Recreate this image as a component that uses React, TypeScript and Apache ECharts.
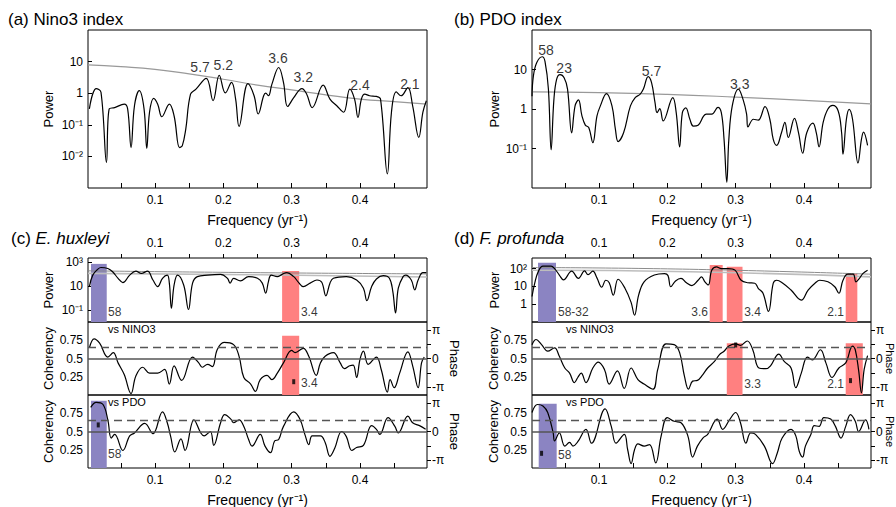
import React, { useEffect, useRef } from 'react';
import * as echarts from 'echarts';

const FONT = '"Liberation Sans", Arial, Helvetica, sans-serif';
const BLUE = '#8b84c2';
const RED = '#ff8080';

// ---------- frequency axis ----------
const FREQ_MIN = 0.002;
const FREQ_MAX = 0.498;
const freqTickValues = [0.05, 0.1, 0.15, 0.2, 0.25, 0.3, 0.35, 0.4, 0.45];
const freqLabelValues = [0.1, 0.2, 0.3, 0.4];

// ---------- phase axis ----------
const PHASE_LIM = 1.272 * Math.PI;
const phaseTickValues = [-Math.PI, -Math.PI / 2, 0, Math.PI / 2, Math.PI];
const phaseLabelValues = [-Math.PI, 0, Math.PI];
const cohTickLabels = [0.25, 0.5, 0.75];
const cohZeroPhaseLevel = 0.5;
const cohSignificance = 0.65;

// ---------- (a) Nino3 index power spectrum ----------
const nino3Freq = [0.004, 0.014, 0.021, 0.029, 0.033, 0.041, 0.055, 0.060, 0.065, 0.070,
  0.077, 0.084, 0.088, 0.092, 0.098, 0.104, 0.110, 0.121, 0.128, 0.136,
  0.140, 0.145, 0.152, 0.160, 0.175, 0.185, 0.194, 0.203, 0.212, 0.218,
  0.223, 0.236, 0.245, 0.251, 0.259, 0.262, 0.266, 0.271, 0.281, 0.288,
  0.294, 0.303, 0.315, 0.322, 0.330, 0.346, 0.356, 0.366, 0.376, 0.385,
  0.392, 0.397, 0.402, 0.407, 0.414, 0.424, 0.430, 0.440, 0.446, 0.453,
  0.460, 0.470, 0.477, 0.486, 0.492, 0.497];
const nino3Power = [0.32, 1.4, 1.07, 0.0065, 0.32, 0.35, 0.45, 0.32, 0.019, 0.4,
  1.2, 0.32, 0.018, 0.25, 0.69, 0.45, 0.18, 0.45, 0.19, 0.019,
  0.022, 0.072, 0.93, 1.35, 2.95, 0.58, 3.7, 1.02, 2.2, 0.65,
  0.089, 2.0, 0.83, 0.22, 0.83, 1.0, 0.83, 1.9, 6.5, 2.2,
  0.38, 0.72, 1.4, 0.93, 0.35, 1.8, 0.65, 0.4, 0.25, 1.35,
  0.65, 0.17, 0.65, 0.93, 0.83, 0.79, 0.65, 0.0028, 0.25, 1.1,
  0.83, 1.5, 0.4, 0.04, 0.25, 0.58];
const nino3NoiseFreq = [0.002, 0.05, 0.1, 0.15, 0.2, 0.25, 0.3, 0.35, 0.4, 0.45, 0.498];
const nino3NoisePower = [7.85, 6.9, 5.7, 4.1, 2.77, 1.8, 1.27, 0.89, 0.65, 0.54, 0.45];
const nino3PeakNames = ['5.7', '5.2', '3.6', '3.2', '2.4', '2.1'];
const nino3PeakFreq = [0.166, 0.200, 0.280, 0.317, 0.400, 0.473];
const nino3PeakPower = [6.9, 7.8, 12.6, 3.3, 1.8, 2.0];

// ---------- (b) PDO index power spectrum ----------
const pdoFreq = [0.002, 0.004, 0.009, 0.017, 0.021, 0.026, 0.030, 0.034, 0.038, 0.043,
  0.049, 0.054, 0.060, 0.065, 0.070, 0.075, 0.080, 0.085, 0.091, 0.097,
  0.102, 0.111, 0.119, 0.124, 0.128, 0.136, 0.146, 0.153, 0.160, 0.165,
  0.172, 0.177, 0.182, 0.185, 0.189, 0.194, 0.208, 0.213, 0.218, 0.222,
  0.227, 0.233, 0.238, 0.245, 0.253, 0.257, 0.265, 0.274, 0.279, 0.283,
  0.287, 0.290, 0.295, 0.304, 0.311, 0.316, 0.318, 0.326, 0.333, 0.343,
  0.350, 0.355, 0.360, 0.367, 0.372, 0.377, 0.386, 0.392, 0.398, 0.404,
  0.413, 0.418, 0.422, 0.428, 0.435, 0.442, 0.450, 0.455, 0.457, 0.462,
  0.466, 0.471, 0.479, 0.484, 0.487, 0.493];
const pdoPower = [2.1, 6.8, 15, 21, 16, 3.2, 0.093, 1.7, 5.6, 7.4,
  6.2, 3.2, 0.25, 1.2, 1.7, 0.68, 0.39, 0.34, 0.14, 0.66,
  1.2, 2.45, 1.2, 0.31, 0.15, 0.25, 1.2, 1.95, 2.35, 3.2,
  6.6, 4.6, 1.45, 0.81, 1.02, 0.5, 1.95, 0.81, 0.11, 0.81,
  1.07, 0.55, 0.37, 0.39, 0.66, 0.74, 0.74, 1.1, 0.81, 0.17,
  0.014, 0.17, 1.2, 3.2, 1.7, 0.74, 0.35, 0.55, 0.52, 1.15,
  0.55, 0.17, 0.12, 0.25, 0.46, 0.19, 0.58, 0.25, 0.076, 0.25,
  0.44, 0.25, 0.11, 0.46, 1.0, 1.23, 0.89, 0.25, 0.072, 0.55,
  0.98, 0.55, 0.043, 0.17, 0.26, 0.12];
const pdoNoiseFreq = [0.002, 0.1, 0.2, 0.3, 0.4, 0.498];
const pdoNoisePower = [2.7, 2.6, 2.35, 2.0, 1.65, 1.35];
const pdoPeakNames = ['58', '23', '5.7', '3.3'];
const pdoPeakFreq = [0.0225, 0.049, 0.177, 0.306];
const pdoPeakPower = [31, 10.7, 9.4, 4.3];

// ---------- (c) E. huxleyi ----------
const ehuxFreq = [0.004, 0.009, 0.016, 0.021, 0.031, 0.038, 0.046, 0.053, 0.063, 0.072,
  0.080, 0.089, 0.097, 0.104, 0.111, 0.118, 0.121, 0.124, 0.128, 0.133,
  0.142, 0.149, 0.155, 0.162, 0.177, 0.196, 0.206, 0.210, 0.215, 0.225,
  0.237, 0.250, 0.257, 0.262, 0.266, 0.270, 0.279, 0.286, 0.293, 0.303,
  0.310, 0.317, 0.327, 0.337, 0.344, 0.350, 0.356, 0.361, 0.380, 0.395,
  0.405, 0.410, 0.417, 0.424, 0.434, 0.443, 0.448, 0.452, 0.456, 0.463,
  0.467, 0.475, 0.480, 0.485, 0.492, 0.497];
const ehuxPower = [8.9, 79, 234, 340, 280, 150, 43, 19, 79, 170,
  110, 170, 31, 8.9, 43, 79, 17, 0.14, 12, 79,
  12, 0.11, 17, 59, 79, 91, 43, 17, 43, 26,
  59, 43, 17, 2.5, 23, 79, 59, 91, 130, 59,
  20, 8.9, 17, 31, 20, 1.5, 17, 43, 59, 31,
  6.5, 0.59, 8.9, 38, 71, 43, 3.4, 0.056, 6.5, 59,
  79, 31, 4.7, 31, 126, 126];
const ehuxLevelFreq = [0.002, 0.254, 0.498];
const ehuxLevelUpper = [180, 126, 100];
const ehuxLevelLower = [110, 85, 55];
const ehuxPowerBandFrom = [0.0064, 0.286];
const ehuxPowerBandTo = [0.0294, 0.311];
const ehuxPowerBandTop = [680, 178];
const ehuxPowerBandKind = ['pdo', 'nino'];
const ehuxPowerLabelNames = ['58', '3.4'];
const ehuxPowerLabelFreq = [0.0298, 0.312];
const ehuxPowerLabelValue = [0.07, 0.07];

const ehuxNinoFreq = [0.004, 0.011, 0.019, 0.031, 0.039, 0.046, 0.055, 0.065, 0.072, 0.082,
  0.092, 0.104, 0.114, 0.121, 0.128, 0.139, 0.155, 0.164, 0.169, 0.177,
  0.184, 0.191, 0.201, 0.215, 0.223, 0.230, 0.240, 0.247, 0.254, 0.264,
  0.271, 0.279, 0.288, 0.300, 0.305, 0.317, 0.325, 0.336, 0.342, 0.349,
  0.361, 0.371, 0.377, 0.385, 0.390, 0.395, 0.400, 0.405, 0.412, 0.424,
  0.431, 0.440, 0.444, 0.450, 0.458, 0.470, 0.477, 0.485, 0.490, 0.494];
const ehuxNinoCoh = [0.645, 0.77, 0.71, 0.52, 0.58, 0.44, 0.28, 0.02, 0.26, 0.38,
  0.30, 0.30, 0.35, 0.15, 0.40, 0.20, 0.52, 0.44, 0.38, 0.42,
  0.39, 0.62, 0.72, 0.69, 0.53, 0.24, 0.15, 0.05, 0.21, 0.27,
  0.21, 0.30, 0.44, 0.61, 0.58, 0.64, 0.53, 0.27, 0.44, 0.53,
  0.58, 0.44, 0.36, 0.40, 0.41, 0.24, 0.49, 0.60, 0.42, 0.52,
  0.35, 0.04, 0.21, 0.10, 0.30, 0.59, 0.40, 0.10, 0.44, 0.52];
const ehuxNinoBandFrom = [0.286];
const ehuxNinoBandTo = [0.311];
const ehuxNinoBandTop = [0.81];
const ehuxNinoPhaseFreq = [0.303];
const ehuxNinoPhase = [-2.54];
const ehuxNinoLabelNames = ['3.4'];
const ehuxNinoLabelFreq = [0.312];
const ehuxNinoLabelValue = [0.16];

const ehuxPdoFreq = [0.006, 0.014, 0.024, 0.031, 0.036, 0.041, 0.053, 0.063, 0.070, 0.085,
  0.097, 0.111, 0.118, 0.123, 0.129, 0.138, 0.144, 0.157, 0.167, 0.172,
  0.181, 0.186, 0.196, 0.202, 0.211, 0.215, 0.223, 0.230, 0.237, 0.242,
  0.254, 0.261, 0.269, 0.275, 0.281, 0.288, 0.303, 0.312, 0.320, 0.325,
  0.330, 0.342, 0.349, 0.356, 0.363, 0.373, 0.380, 0.388, 0.395, 0.405,
  0.417, 0.424, 0.429, 0.441, 0.451, 0.456, 0.470, 0.477, 0.487, 0.496];
const ehuxPdoCoh = [0.83, 0.90, 0.87, 0.66, 0.41, 0.46, 0.24, 0.44, 0.48, 0.61,
  0.47, 0.77, 0.62, 0.43, 0.22, 0.40, 0.24, 0.66, 0.48, 0.44,
  0.50, 0.31, 0.62, 0.73, 0.67, 0.62, 0.66, 0.57, 0.39, 0.30,
  0.46, 0.30, 0.21, 0.37, 0.39, 0.57, 0.77, 0.67, 0.44, 0.32,
  0.44, 0.44, 0.35, 0.16, 0.27, 0.50, 0.43, 0.24, 0.28, 0.31,
  0.58, 0.53, 0.46, 0.69, 0.57, 0.48, 0.71, 0.62, 0.58, 0.53];
const ehuxPdoBandFrom = [0.0064];
const ehuxPdoBandTo = [0.0294];
const ehuxPdoBandTop = [0.92];
const ehuxPdoPhaseFreq = [0.017];
const ehuxPdoPhase = [0.72];
const ehuxPdoLabelNames = ['58'];
const ehuxPdoLabelFreq = [0.0298];
const ehuxPdoLabelValue = [0.185];

// ---------- (d) F. profunda ----------
const fprofFreq = [0.002, 0.006, 0.011, 0.018, 0.030, 0.035, 0.042, 0.048, 0.060, 0.070,
  0.079, 0.084, 0.091, 0.097, 0.104, 0.110, 0.115, 0.121, 0.128, 0.138,
  0.147, 0.152, 0.158, 0.166, 0.181, 0.196, 0.201, 0.205, 0.212, 0.220,
  0.228, 0.236, 0.245, 0.250, 0.255, 0.260, 0.265, 0.272, 0.279, 0.289,
  0.299, 0.308, 0.318, 0.328, 0.333, 0.340, 0.348, 0.355, 0.360, 0.369,
  0.381, 0.396, 0.406, 0.416, 0.423, 0.435, 0.445, 0.451, 0.457, 0.464,
  0.472, 0.476, 0.481, 0.486, 0.493];
const fprofPower = [2.7, 15, 65, 135, 135, 100, 43, 23, 71, 28,
  74, 45, 71, 30, 8.9, 22, 16, 3.2, 25, 7.9,
  1.26, 0.24, 3.2, 18, 43, 52, 40, 9.5, 20, 28,
  16, 11, 22, 34, 18, 12, 81, 123, 100, 100,
  81, 22, 16, 15, 7.8, 4.1, 0.39, 15, 22, 15,
  6.2, 1.7, 6.2, 15, 22, 18, 9.5, 4.1, 22, 48,
  48, 18, 28, 52, 81];
const fprofLevelFreq = [0.002, 0.233, 0.498];
const fprofLevelUpper = [114, 91, 48];
const fprofLevelLower = [80, 66, 34];
const fprofPowerBandFrom = [0.0108, 0.262, 0.287, 0.461];
const fprofPowerBandTo = [0.0371, 0.281, 0.310, 0.478];
const fprofPowerBandTop = [213, 158, 126, 51];
const fprofPowerBandKind = ['pdo', 'nino', 'nino', 'nino'];
const fprofPowerLabelNames = ['58-32', '3.6', '3.4', '2.1'];
const fprofPowerLabelFreq = [0.0386, 0.261, 0.311, 0.460];
const fprofPowerLabelValue = [0.36, 0.36, 0.36, 0.36];
const fprofPowerLabelSide = ['right', 'left', 'right', 'left'];

const fprofNinoFreq = [0.002, 0.008, 0.016, 0.025, 0.035, 0.042, 0.050, 0.057, 0.064, 0.069,
  0.074, 0.081, 0.091, 0.099, 0.108, 0.115, 0.127, 0.137, 0.147, 0.157,
  0.166, 0.179, 0.186, 0.198, 0.210, 0.218, 0.225, 0.231, 0.237, 0.244,
  0.252, 0.259, 0.269, 0.276, 0.283, 0.290, 0.300, 0.307, 0.317, 0.325,
  0.334, 0.344, 0.351, 0.359, 0.363, 0.371, 0.381, 0.388, 0.396, 0.405,
  0.412, 0.424, 0.432, 0.441, 0.451, 0.461, 0.471, 0.475, 0.480, 0.484,
  0.488, 0.493];
const fprofNinoCoh = [0.69, 0.76, 0.69, 0.60, 0.645, 0.53, 0.37, 0.30, 0.17, 0.24,
  0.30, 0.17, 0.37, 0.45, 0.35, 0.15, 0.33, 0.09, 0.37, 0.21,
  0.15, 0.08, 0.35, 0.70, 0.69, 0.58, 0.26, 0.08, 0.19, 0.20,
  0.28, 0.37, 0.46, 0.55, 0.60, 0.67, 0.70, 0.68, 0.74, 0.62,
  0.37, 0.36, 0.40, 0.53, 0.56, 0.46, 0.37, 0.10, 0.30, 0.52,
  0.48, 0.62, 0.44, 0.24, 0.37, 0.44, 0.67, 0.62, 0.33, 0.03,
  0.35, 0.54];
const fprofNinoBandFrom = [0.287, 0.461];
const fprofNinoBandTo = [0.310, 0.486];
const fprofNinoBandTop = [0.71, 0.71];
const fprofNinoPhaseFreq = [0.300, 0.468];
const fprofNinoPhase = [1.48, -2.42];
const fprofNinoLabelNames = ['3.3', '2.1'];
const fprofNinoLabelFreq = [0.311, 0.460];
const fprofNinoLabelValue = [0.145, 0.145];
const fprofNinoLabelSide = ['right', 'left'];

const fprofPdoFreq = [0.002, 0.010, 0.018, 0.025, 0.033, 0.035, 0.042, 0.050, 0.057, 0.062,
  0.069, 0.081, 0.089, 0.109, 0.118, 0.125, 0.137, 0.142, 0.147, 0.152,
  0.157, 0.166, 0.174, 0.183, 0.191, 0.200, 0.210, 0.220, 0.230, 0.237,
  0.244, 0.252, 0.259, 0.273, 0.281, 0.291, 0.300, 0.307, 0.315, 0.322,
  0.329, 0.342, 0.354, 0.361, 0.368, 0.381, 0.388, 0.393, 0.398, 0.402,
  0.410, 0.415, 0.422, 0.429, 0.439, 0.446, 0.454, 0.461, 0.468, 0.475,
  0.480, 0.490, 0.495];
const fprofPdoCoh = [0.76, 0.87, 0.85, 0.76, 0.48, 0.37, 0.48, 0.30, 0.35, 0.30,
  0.36, 0.53, 0.34, 0.81, 0.57, 0.34, 0.46, 0.25, 0.06, 0.25,
  0.33, 0.30, 0.32, 0.07, 0.44, 0.69, 0.64, 0.62, 0.44, 0.15,
  0.30, 0.41, 0.46, 0.67, 0.53, 0.66, 0.76, 0.62, 0.34, 0.48,
  0.46, 0.30, 0.06, 0.21, 0.41, 0.53, 0.44, 0.23, 0.15, 0.30,
  0.46, 0.58, 0.57, 0.69, 0.67, 0.57, 0.41, 0.57, 0.73, 0.64,
  0.50, 0.66, 0.53];
const fprofPdoBandFrom = [0.0118];
const fprofPdoBandTo = [0.0381];
const fprofPdoBandTop = [0.88];
const fprofPdoPhaseFreq = [0.016];
const fprofPdoPhase = [-2.39];
const fprofPdoLabelNames = ['58'];
const fprofPdoLabelFreq = [0.0386];
const fprofPdoLabelValue = [0.172];

// ---------- helpers ----------
const pts = (xs: number[], ys: number[]) => xs.map((x, i) => [x, ys[i]]);
const SUP: Record<string, string> = { '-': '\u207B', '0': '\u2070', '1': '\u00B9', '2': '\u00B2', '3': '\u00B3' };
const powLabel = (e: number) => {
  if (e === 0) return '1';
  if (e === 1) return '10';
  return '10' + String(e).split('').map((c) => SUP[c]).join('');
};
const txt = (size: number) => ({ fontSize: size, color: '#000', fontFamily: FONT });

function freqAxis(gridIndex: number, kind: 'bottom' | 'top' | 'hidden', withName: boolean) {
  return {
    type: 'value', gridIndex, min: FREQ_MIN, max: FREQ_MAX,
    position: kind === 'top' ? 'top' : 'bottom',
    show: kind !== 'hidden',
    axisLine: { show: false },
    splitLine: { show: false },
    axisTick: {
      show: true, inside: kind === 'bottom', length: kind === 'bottom' ? 5 : 4,
      customValues: freqTickValues, lineStyle: { color: '#000', width: 1 },
    },
    axisLabel: {
      show: true, customValues: freqLabelValues, margin: kind === 'bottom' ? 6 : 9, ...txt(12),
      formatter: (v: number) => String(Math.round(v * 10) / 10),
    },
    name: withName ? 'Frequency (yr\u207B\u00B9)' : '',
    nameLocation: 'middle', nameGap: 25,
    nameTextStyle: txt(14),
  };
}

function logAxis(gridIndex: number, min: number, max: number, shown: number[], nameGap: number) {
  return {
    type: 'log', logBase: 10, gridIndex, min, max,
    axisLine: { show: false }, splitLine: { show: false },
    axisTick: {
      show: true, inside: true, length: 4, lineStyle: { color: '#000' },
      customValues: shown.map((e) => Math.pow(10, e)),
    },
    minorTick: { show: false }, minorSplitLine: { show: false },
    axisLabel: {
      ...txt(12), margin: 5,
      formatter: (v: number) => {
        const l = Math.log10(v);
        const e = Math.round(l);
        return Math.abs(l - e) < 0.02 && shown.includes(e) ? powLabel(e) : '';
      },
    },
    name: 'Power', nameLocation: 'middle', nameGap, nameTextStyle: txt(13),
  };
}

function cohAxis(gridIndex: number, nameGap: number) {
  return {
    type: 'value', gridIndex, min: 0, max: 1,
    axisLine: { show: false }, splitLine: { show: false }, axisTick: { show: false },
    axisLabel: { ...txt(12), margin: 5, customValues: cohTickLabels, formatter: (v: number) => String(v) },
    name: 'Coherency', nameLocation: 'middle', nameGap, nameTextStyle: txt(13),
  };
}

function phaseAxis(gridIndex: number, nameGap: number, withName: boolean) {
  return {
    type: 'value', gridIndex, position: 'right', min: -PHASE_LIM, max: PHASE_LIM,
    axisLine: { show: false }, splitLine: { show: false },
    axisTick: { show: true, inside: false, length: 4, customValues: phaseTickValues, lineStyle: { color: '#000' } },
    axisLabel: {
      ...txt(12), margin: 5, customValues: phaseLabelValues,
      formatter: (v: number) => (v > 0.1 ? '\u03C0' : v < -0.1 ? '-\u03C0' : '0'),
    },
    name: withName ? 'Phase' : '', nameLocation: 'middle', nameRotate: -90, nameGap, nameTextStyle: txt(13),
  };
}

function curve(xi: number, yi: number, xs: number[], ys: number[], extra: any = {}) {
  return {
    type: 'line', xAxisIndex: xi, yAxisIndex: yi, data: pts(xs, ys),
    symbol: 'none', showSymbol: false, smooth: 0.4, silent: true, z: 3,
    lineStyle: { color: '#000', width: 1.2 },
    ...extra,
  };
}

function grayLine(xi: number, yi: number, xs: number[], ys: number[], color: string, width: number) {
  return {
    type: 'line', xAxisIndex: xi, yAxisIndex: yi, data: pts(xs, ys),
    symbol: 'none', showSymbol: false, smooth: true, silent: true, z: 2,
    lineStyle: { color, width },
  };
}

function bands(from: number[], to: number[], top: number[], kinds: string[], bottom: number) {
  return {
    silent: true,
    label: { show: false },
    data: from.map((f, i) => [
      { xAxis: f, yAxis: bottom, itemStyle: { color: kinds[i] === 'pdo' ? BLUE : RED, opacity: 1 } },
      { xAxis: to[i], yAxis: top[i] },
    ]),
  };
}

const cohLines = {
  silent: true, symbol: ['none', 'none'], label: { show: false },
  data: [
    { yAxis: cohZeroPhaseLevel, lineStyle: { type: 'solid', color: '#555', width: 1.5 } },
    { yAxis: cohSignificance, lineStyle: { type: [8, 5], color: '#555', width: 1.3 } },
  ],
};

function labels(xi: number, yi: number, names: string[], xs: number[], ys: number[], sides: string[] | string, size: number) {
  return {
    type: 'scatter', xAxisIndex: xi, yAxisIndex: yi, symbolSize: 0, silent: true, z: 6,
    itemStyle: { color: '#000' },
    data: names.map((n, i) => ({
      name: n, value: [xs[i], ys[i]],
      label: { position: Array.isArray(sides) ? sides[i] : sides },
    })),
    label: {
      show: true, formatter: '{b}', distance: 1, ...txt(size),
      textBorderWidth: 0, textBorderColor: 'transparent', textShadowBlur: 0,
    },
  };
}

function phaseMarks(xi: number, yi: number, xs: number[], ys: number[]) {
  return {
    type: 'scatter', xAxisIndex: xi, yAxisIndex: yi, symbol: 'rect', symbolSize: [3, 5],
    silent: true, z: 6, itemStyle: { color: '#000' }, data: pts(xs, ys),
  };
}

function buildOption() {
  const gridBox = (left: number, top: number, height: number) => ({
    left, top, width: 339, height, show: true, borderColor: '#000', borderWidth: 1,
    backgroundColor: 'transparent', containLabel: false, outerBoundsMode: 'none',
  });
  const grid = [
    gridBox(88, 30, 158),
    gridBox(532, 30, 158),
    gridBox(88, 258, 64),
    gridBox(88, 322, 73),
    gridBox(88, 395, 73),
    gridBox(532, 258, 64),
    gridBox(532, 322, 73),
    gridBox(532, 395, 73),
  ];
  const xAxis = [
    freqAxis(0, 'bottom', true),
    freqAxis(1, 'bottom', true),
    freqAxis(2, 'top', false),
    freqAxis(3, 'hidden', false),
    freqAxis(4, 'bottom', true),
    freqAxis(5, 'top', false),
    freqAxis(6, 'hidden', false),
    freqAxis(7, 'bottom', true),
  ];
  const yAxis = [
    logAxis(0, 0.001, 100, [-2, -1, 0, 1], 33),
    logAxis(1, 0.01, 100, [-1, 0, 1], 31),
    logAxis(2, 0.01, 2100, [-1, 1, 3], 33),
    cohAxis(3, 33),
    phaseAxis(3, 17, true),
    cohAxis(4, 33),
    phaseAxis(4, 17, true),
    logAxis(5, 0.1, 390, [0, 1, 2], 31),
    cohAxis(6, 31),
    phaseAxis(6, 8, false),
    cohAxis(7, 31),
    phaseAxis(7, 8, false),
  ];
  const series: any[] = [
    // (a)
    grayLine(0, 0, nino3NoiseFreq, nino3NoisePower, '#999', 1.2),
    curve(0, 0, nino3Freq, nino3Power),
    labels(0, 0, nino3PeakNames, nino3PeakFreq, nino3PeakPower, 'inside', 14),
    // (b)
    grayLine(1, 1, pdoNoiseFreq, pdoNoisePower, '#999', 1.2),
    curve(1, 1, pdoFreq, pdoPower),
    labels(1, 1, pdoPeakNames, pdoPeakFreq, pdoPeakPower, 'inside', 14),
    // (c) power
    grayLine(2, 2, ehuxLevelFreq, ehuxLevelLower, '#bdbdbd', 1.6),
    grayLine(2, 2, ehuxLevelFreq, ehuxLevelUpper, '#8c8c8c', 1),
    curve(2, 2, ehuxFreq, ehuxPower, {
      markArea: bands(ehuxPowerBandFrom, ehuxPowerBandTo, ehuxPowerBandTop, ehuxPowerBandKind, 0.01),
    }),
    labels(2, 2, ehuxPowerLabelNames, ehuxPowerLabelFreq, ehuxPowerLabelValue, 'right', 12),
    // (c) vs NINO3
    curve(3, 3, ehuxNinoFreq, ehuxNinoCoh, {
      markArea: bands(ehuxNinoBandFrom, ehuxNinoBandTo, ehuxNinoBandTop, ['nino'], 0),
      markLine: cohLines,
    }),
    phaseMarks(3, 4, ehuxNinoPhaseFreq, ehuxNinoPhase),
    labels(3, 3, ehuxNinoLabelNames, ehuxNinoLabelFreq, ehuxNinoLabelValue, 'right', 12),
    // (c) vs PDO
    curve(4, 5, ehuxPdoFreq, ehuxPdoCoh, {
      markArea: bands(ehuxPdoBandFrom, ehuxPdoBandTo, ehuxPdoBandTop, ['pdo'], 0),
      markLine: cohLines,
    }),
    phaseMarks(4, 6, ehuxPdoPhaseFreq, ehuxPdoPhase),
    labels(4, 5, ehuxPdoLabelNames, ehuxPdoLabelFreq, ehuxPdoLabelValue, 'right', 12),
    // (d) power
    grayLine(5, 7, fprofLevelFreq, fprofLevelLower, '#bdbdbd', 1.6),
    grayLine(5, 7, fprofLevelFreq, fprofLevelUpper, '#8c8c8c', 1),
    curve(5, 7, fprofFreq, fprofPower, {
      markArea: bands(fprofPowerBandFrom, fprofPowerBandTo, fprofPowerBandTop, fprofPowerBandKind, 0.1),
    }),
    labels(5, 7, fprofPowerLabelNames, fprofPowerLabelFreq, fprofPowerLabelValue, fprofPowerLabelSide, 12),
    // (d) vs NINO3
    curve(6, 8, fprofNinoFreq, fprofNinoCoh, {
      markArea: bands(fprofNinoBandFrom, fprofNinoBandTo, fprofNinoBandTop, ['nino', 'nino'], 0),
      markLine: cohLines,
    }),
    phaseMarks(6, 9, fprofNinoPhaseFreq, fprofNinoPhase),
    labels(6, 8, fprofNinoLabelNames, fprofNinoLabelFreq, fprofNinoLabelValue, fprofNinoLabelSide, 12),
    // (d) vs PDO
    curve(7, 10, fprofPdoFreq, fprofPdoCoh, {
      markArea: bands(fprofPdoBandFrom, fprofPdoBandTo, fprofPdoBandTop, ['pdo'], 0),
      markLine: cohLines,
    }),
    phaseMarks(7, 11, fprofPdoPhaseFreq, fprofPdoPhase),
    labels(7, 10, fprofPdoLabelNames, fprofPdoLabelFreq, fprofPdoLabelValue, 'right', 12),
  ];

  const title = (x: number, y: number, text: string) => ({
    type: 'text', x, y, silent: true,
    style: {
      text, fill: '#000', fontSize: 17, fontFamily: FONT, verticalAlign: 'middle',
      rich: { i: { fontStyle: 'italic', fontSize: 17, fontFamily: FONT, fill: '#000' } },
    },
  });
  const note = (x: number, y: number, text: string) => ({
    type: 'text', x, y, silent: true,
    style: { text, fill: '#000', fontSize: 11, fontFamily: FONT, verticalAlign: 'middle' },
  });
  const sideName = (x: number, y: number, text: string) => ({
    type: 'text', x, y, rotation: -Math.PI / 2, silent: true,
    style: { text, fill: '#000', fontSize: 11, fontFamily: FONT, align: 'center', verticalAlign: 'middle' },
  });

  return {
    animation: false,
    backgroundColor: '#fff',
    textStyle: { fontFamily: FONT },
    grid, xAxis, yAxis, series,
    graphic: [
      title(8, 19, '(a) Nino3 index'),
      title(454, 19, '(b) PDO index'),
      title(11, 238, '(c) {i|E. huxleyi}'),
      title(454, 238, '(d) {i|F. profunda}'),
      note(108, 329, 'vs NINO3'),
      note(108, 401.5, 'vs PDO'),
      note(566, 329, 'vs NINO3'),
      note(566, 401.5, 'vs PDO'),
      sideName(890, 358.5, 'Phase'),
      sideName(890, 431.5, 'Phase'),
    ],
  };
}

export default function App() {
  const ref = useRef<HTMLDivElement>(null);
  useEffect(() => {
    if (!ref.current) return;
    const chart = echarts.init(ref.current, undefined, { renderer: 'svg', width: 896, height: 507 });
    chart.setOption(buildOption() as any);
    return () => chart.dispose();
  }, []);
  return (
    <div
      ref={ref}
      style={{ position: 'absolute', left: 0, top: 0, width: 896, height: 507, background: '#fff' }}
    />
  );
}
